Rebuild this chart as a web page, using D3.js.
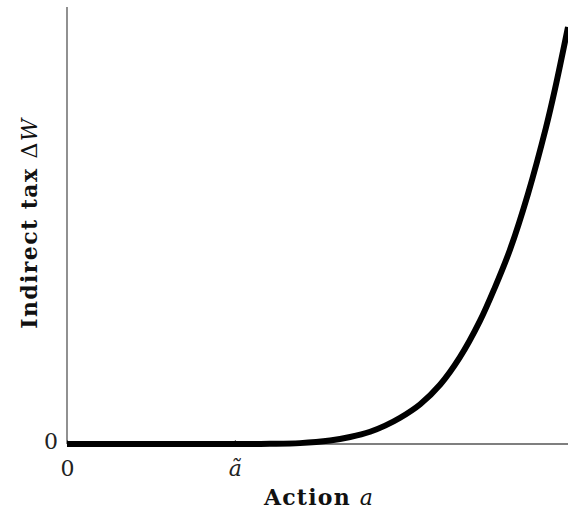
<!DOCTYPE html>
<html><head><meta charset="utf-8">
<script src="https://cdn.jsdelivr.net/npm/d3@7"></script>
<style>body{margin:0;background:#fff}svg{display:block}</style>
</head><body><div id="c"></div>
<script>
// Action a (normalised 0..1) and indirect tax ΔW (normalised)
const actionVals = [0, 0.335, 0.405, 0.465, 0.525, 0.565, 0.605, 0.635, 0.665, 0.705, 0.745, 0.784, 0.824, 0.854, 0.884, 0.920, 0.956, 0.974, 1.0];
const taxVals    = [0, 0,     0.0004, 0.002, 0.008, 0.016, 0.028, 0.042, 0.060, 0.091, 0.136, 0.198, 0.281, 0.358, 0.444, 0.572, 0.724, 0.812, 0.954];
const xTickVals = [0, 0.335];
const xTickLabels = ["0", "ã"];
const yTickVals = [0];
const yTickLabels = ["0"];

const W = 568, H = 513;
const m = {left: 67, right: 0, top: 7, bottom: 69};
const svg = d3.select("#c").append("svg").attr("width", W).attr("height", H);
const x = d3.scaleLinear().domain([0, 1]).range([m.left, W - m.right]);
const y = d3.scaleLinear().domain([0, 1]).range([H - m.bottom, m.top]);

svg.append("defs").append("clipPath").attr("id", "clip")
  .append("rect").attr("x", m.left - 5).attr("y", 0).attr("width", W - m.left + 5).attr("height", H);

const font = "'DejaVu Serif', serif";
// spines
const axisColor = "#555";
svg.append("line").attr("x1", x(0)).attr("x2", x(0)).attr("y1", y(1)).attr("y2", y(0))
  .attr("stroke", axisColor).attr("stroke-width", 1.3);
svg.append("line").attr("x1", x(0)).attr("x2", W).attr("y1", y(0)).attr("y2", y(0))
  .attr("stroke", axisColor).attr("stroke-width", 1.3);

// x ticks (small inward ticks)
const xAxis = d3.axisBottom(x).tickValues(xTickVals).tickSize(0).tickFormat((d, i) => xTickLabels[i]);
const gx = svg.append("g").attr("transform", `translate(0,${y(0)})`).call(xAxis);
gx.select(".domain").remove();
gx.selectAll(".tick line").remove();
gx.selectAll(".tick").append("line").attr("y1", 0).attr("y2", -4).attr("stroke", axisColor).attr("stroke-width", 1);
gx.selectAll(".tick text").attr("y", 32).attr("dy", 0)
  .style("font-family", font).style("font-size", "22px").attr("fill", "#222")
  .style("font-style", (d, i) => i === 1 ? "italic" : "normal");

const yAxis = d3.axisLeft(y).tickValues(yTickVals).tickSize(0).tickFormat((d, i) => yTickLabels[i]);
const gy = svg.append("g").attr("transform", `translate(${x(0)},0)`).call(yAxis);
gy.select(".domain").remove();
gy.selectAll(".tick text").attr("x", -9).attr("y", -3).attr("dy", "0.35em")
  .style("font-family", font).style("font-size", "22px").attr("fill", "#222");

// curve
const pts = actionVals.map((a, i) => [a, taxVals[i]]);
const line = d3.line().x(d => x(d[0])).y(d => y(d[1])).curve(d3.curveCatmullRom.alpha(0.5));
svg.append("path").datum(pts).attr("d", line).attr("clip-path", "url(#clip)")
  .attr("fill", "none").attr("stroke", "#000").attr("stroke-width", 6).attr("stroke-linecap", "butt");

// axis titles
const xt = svg.append("text").attr("x", 319).attr("y", 505).attr("text-anchor", "middle")
  .style("font-family", font).style("font-size", "22px").style("letter-spacing", "1.2px").attr("fill", "#111");
xt.append("tspan").style("font-weight", "bold").text("Action ");
xt.append("tspan").style("font-style", "italic").text("a");

const yt = svg.append("text").attr("transform", `translate(37,223) rotate(-90)`).attr("text-anchor", "middle")
  .style("font-family", font).style("font-size", "22px").style("letter-spacing", "1.4px").attr("fill", "#111");
yt.append("tspan").style("font-weight", "bold").text("Indirect tax ");
yt.append("tspan").text("Δ");
yt.append("tspan").style("font-style", "italic").text("W");
</script></body></html>
